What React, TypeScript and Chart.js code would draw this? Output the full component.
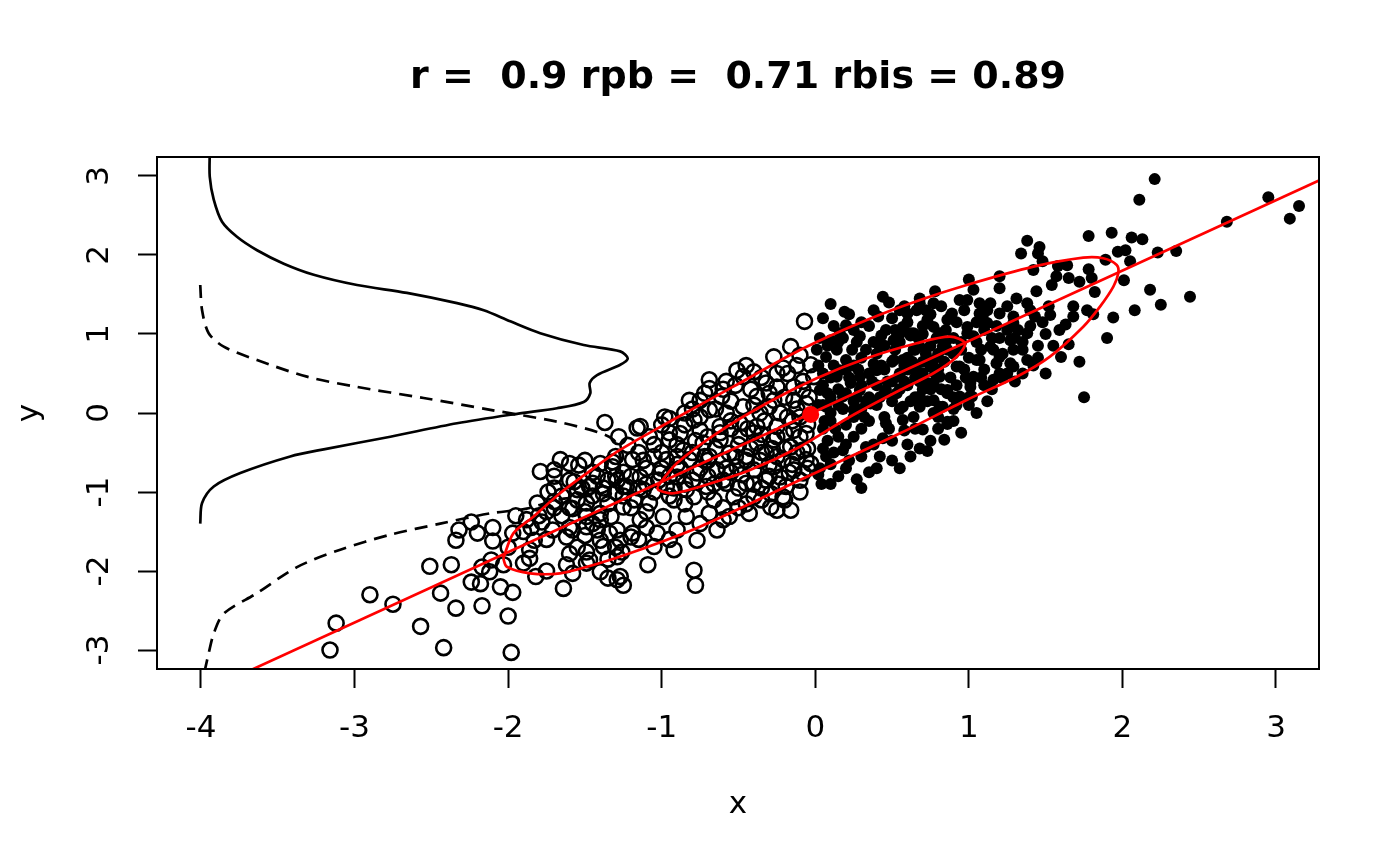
import { useEffect, useRef } from 'react';
import { Chart, registerables } from 'chart.js';

Chart.register(...registerables);

const FONT = '"DejaVu Sans", sans-serif';
const TITLE = 'r =  0.9 rpb =  0.71 rbis = 0.89';

const X_TICKS = [-4, -3, -2, -1, 0, 1, 2, 3];
const Y_TICKS = [-3, -2, -1, 0, 1, 2, 3];

// x < 0 group (open circles)
const OPEN_PTS: [number, number][] = [
  [-3.16, -3.0], [-3.12, -2.66], [-2.9, -2.3], [-2.75, -2.42], [-2.57, -2.7], [-2.42, -2.97],
  [-2.51, -1.94], [-2.37, -1.92], [-2.44, -2.28], [-2.34, -2.47], [-2.17, -2.44], [-1.98, -3.03],
  [-2.0, -2.57], [-1.97, -2.27], [-2.05, -2.2], [-2.24, -2.14], [-2.18, -2.16], [-2.17, -1.95],
  [-2.12, -2.01], [-2.11, -1.86], [-2.03, -1.92], [-2.34, -1.61], [-2.32, -1.48], [-2.24, -1.38],
  [-2.2, -1.52], [-2.1, -1.62], [-1.97, -1.52], [-1.86, -1.73], [-1.86, -1.84], [-1.82, -2.07],
  [-1.83, -1.61], [-1.88, -1.35], [-1.81, -1.14], [-1.74, -1.0], [-1.75, -1.25], [-1.7, -1.12],
  [-1.71, -1.48], [-1.64, -2.22], [-1.62, -1.92], [-1.58, -2.03], [-1.6, -1.78], [-1.62, -1.57],
  [-1.79, -0.74], [-1.7, -0.72], [-1.66, -0.59], [-1.6, -0.64], [-1.54, -0.66], [-1.4, -0.64],
  [-1.32, -0.62], [-1.58, -1.21], [-1.55, -0.97], [-1.49, -1.14], [-1.45, -1.4], [-1.49, -1.44],
  [-1.4, -1.61], [-1.47, -1.86], [-1.4, -2.01], [-1.35, -2.09], [-1.27, -2.07], [-1.25, -2.18],
  [-1.29, -1.82], [-1.34, -1.52], [-1.27, -1.61], [-1.45, -0.89], [-1.38, -1.02], [-1.29, -0.85],
  [-1.4, -1.27], [-1.37, -0.12], [-1.16, -0.19], [-1.22, -0.41], [-1.57, -0.87], [-1.47, -0.93],
  [-1.23, -0.93], [-1.25, -1.19], [-1.18, -1.1], [-1.2, -1.57], [-1.58, -1.48], [-1.49, -1.31],
  [-1.42, -1.48], [-1.33, -1.31], [-1.29, -1.48], [-1.49, -1.9], [-1.29, -2.11], [-1.49, -1.76],
  [-1.38, -1.69], [-1.26, -1.76], [-0.79, -1.99], [-0.78, -2.18], [-1.09, -1.92],
  [-0.07, 1.16], [-0.16, 0.84], [-0.1, 0.73], [-0.03, 0.61], [-0.01, 0.46], [-0.27, 0.71],
  [-0.21, 0.57], [-0.4, 0.52], [-0.51, 0.54], [-0.47, 0.46], [-0.69, 0.42], [-0.69, 0.31],
  [-0.52, 0.35], [-0.61, 0.21], [-0.75, 0.16], [-0.82, 0.16], [-0.95, -0.07], [-1.14, -0.17],
  [-0.32, 0.38], [-0.25, 0.33], [-0.14, 0.33], [-0.08, 0.29], [-0.38, 0.21], [-0.27, 0.16],
  [-0.14, 0.16], [-0.06, 0.12], [-0.47, 0.08], [-0.36, 0.0], [-0.23, 0.0], [-0.1, -0.05],
  [-0.58, 0.0], [-0.69, 0.04], [-0.79, -0.09], [-0.88, -0.26], [-0.75, -0.22], [-0.62, -0.17],
  [-0.49, -0.13], [-0.38, -0.17], [-0.25, -0.17], [-0.14, -0.22], [-0.06, -0.26], [-0.95, -0.34],
  [-0.86, -0.47], [-0.73, -0.38], [-0.62, -0.34], [-0.49, -0.3], [-0.38, -0.38], [-0.27, -0.34],
  [-0.16, -0.43], [-0.08, -0.47], [-1.05, -0.55], [-1.19, -0.59], [-1.32, -0.68], [-0.97, -0.59],
  [-0.82, -0.59], [-0.69, -0.55], [-0.56, -0.51], [-0.45, -0.55], [-0.32, -0.51], [-0.21, -0.59],
  [-0.06, -0.59], [-1.14, -0.81], [-1.01, -0.76], [-0.9, -0.81], [-0.77, -0.76], [-0.64, -0.72],
  [-0.51, -0.68], [-0.4, -0.72], [-0.27, -0.68], [-0.14, -0.72], [-1.25, -0.93], [-1.12, -0.97],
  [-0.97, -0.93], [-0.84, -0.97], [-0.71, -0.93], [-0.58, -0.89], [-0.45, -0.89], [-0.32, -0.85],
  [-0.19, -0.93], [-1.08, -1.14], [-0.92, -1.1], [-0.79, -1.06], [-0.66, -1.1], [-0.53, -1.06],
  [-0.4, -1.06], [-0.29, -1.02], [-0.16, -1.23], [-0.29, -1.19], [-0.43, -1.27], [-0.56, -1.31],
  [-0.69, -1.27], [-0.84, -1.31], [-0.99, -1.31], [-1.14, -1.35], [-1.19, -1.52], [-1.03, -1.52],
  [-0.9, -1.48], [-0.77, -1.61], [-0.64, -1.48], [-0.92, -1.73], [-1.05, -1.69], [-0.25, -1.23],
  [-0.21, -1.06], [-0.08, -0.76], [-0.03, -0.64], [-0.23, -0.81], [-0.35, -0.27], [-0.55, -0.2],
  [-0.7, -0.6], [-0.9, -0.4], [-0.6, -0.85], [-0.42, -0.45], [-0.18, -0.05], [-0.3, 0.08],
  [-1.3, -1.0], [-1.2, -0.8], [-1.1, -0.9], [-1.0, -0.7], [-1.05, -1.0], [-0.95, -0.8],
  [-0.9, -0.65], [-0.85, -0.9], [-0.8, -0.5], [-0.75, -0.7], [-0.7, -0.8], [-0.65, -0.45],
  [-0.6, -0.6], [-0.55, -0.75], [-0.5, -0.4], [-0.45, -0.6], [-0.4, -0.25], [-0.35, -0.5],
  [-0.3, -0.65], [-0.25, -0.3], [-0.2, -0.45], [-0.15, -0.1], [-0.1, -0.3], [-0.05, -0.45],
  [-0.12, 0.05], [-0.2, 0.2], [-0.3, 0.25], [-0.42, 0.3], [-0.55, 0.15], [-0.65, 0.05],
  [-0.75, -0.05], [-0.85, -0.15], [-0.95, -0.25], [-1.05, -0.4], [-1.15, -0.5], [-1.25, -0.75],
  [-1.35, -0.85], [-1.45, -1.05], [-1.55, -1.1], [-1.65, -1.3], [-1.5, -1.25], [-1.35, -1.15],
  [-1.2, -1.2], [-1.1, -1.25], [-0.95, -1.05], [-0.85, -1.15], [-0.7, -1.0], [-0.6, -1.2],
  [-0.5, -0.95], [-0.35, -0.95], [-0.25, -0.55], [-0.15, -0.65], [-0.05, -0.15], [-0.08, 0.4],
  [-0.18, 0.5], [-0.35, 0.45], [-0.6, 0.3], [-0.8, 0.05], [-1.0, -0.15], [-1.3, -0.55],
  [-1.45, -0.75], [-1.6, -0.85], [-1.7, -0.95], [-1.8, -1.3], [-1.9, -1.5], [-1.75, -1.6],
  [-1.6, -1.45], [-1.5, -1.55], [-1.7, -1.2], [-1.4, -1.35], [-1.15, -1.6], [-1.3, -1.7],
  [-0.45, -1.15], [-0.3, -0.8], [-0.1, -0.85], [-0.55, -0.1], [-0.7, -0.3], [-0.9, -0.55],
  [-1.1, -0.7], [-0.4, 0.1],
  [-1.95, -1.3], [-1.85, -1.45], [-1.78, -1.38], [-1.65, -1.05], [-1.6, -1.2], [-1.52, -0.95],
  [-1.42, -0.8], [-1.38, -0.95], [-1.3, -0.8], [-1.25, -1.05], [-1.15, -0.95], [-1.12, -0.6],
  [-1.02, -0.85], [-1.0, -0.5], [-0.92, -0.95], [-0.88, -0.7], [-0.8, -0.85], [-0.78, -0.35],
  [-0.72, -0.55], [-0.66, -0.9], [-0.62, -0.25], [-0.58, -0.7], [-0.52, -0.55], [-0.48, -0.78],
  [-0.44, -0.2], [-0.4, -0.9], [-0.36, -0.6], [-0.33, -0.1], [-0.28, -0.45], [-0.24, -0.9],
  [-0.2, -0.25], [-0.17, -0.75], [-0.12, -0.5], [-0.1, -1.0], [-0.05, -0.7], [-0.04, 0.2],
  [-0.12, 0.6], [-0.25, 0.5], [-0.45, 0.6], [-0.58, 0.4], [-0.72, 0.25], [-0.85, 0.0],
  [-0.98, -0.05], [-1.08, -0.3], [-1.28, -0.3], [-1.5, -0.6], [-1.7, -0.8], [-1.55, -1.7],
  [-1.35, -1.85], [-1.1, -1.45], [-0.95, -1.6], [-0.75, -1.4], [-0.6, -1.35], [-0.5, -1.2],
  [-0.35, -1.1], [-0.2, -1.1], [-2.0, -1.7], [-2.1, -1.45], [-1.9, -1.9], [-1.75, -2.0],
];

// x > 0 group (filled dots)
const FILLED_PTS: [number, number][] = [
  [2.21, 2.96], [2.11, 2.7], [2.95, 2.73], [3.15, 2.62], [3.09, 2.46], [2.68, 2.42], [1.78, 2.24],
  [1.93, 2.28], [2.06, 2.22], [2.13, 2.2], [1.38, 2.18], [1.46, 2.1], [1.34, 2.02], [1.45, 2.02],
  [1.97, 2.04], [2.02, 2.06], [2.23, 2.03], [2.35, 2.05], [2.05, 1.92], [1.89, 1.94], [1.78, 1.82],
  [1.64, 1.87], [1.58, 1.86], [1.48, 1.92], [1.42, 1.81], [1.2, 1.73], [1.8, 1.71], [1.72, 1.66],
  [2.01, 1.68], [2.18, 1.56], [2.44, 1.47], [1.82, 1.53], [2.08, 1.3], [2.25, 1.37], [1.94, 1.21],
  [1.81, 1.25], [1.9, 0.95], [1.65, 0.87], [1.6, 0.71], [1.72, 0.65], [1.75, 0.2], [1.59, 1.05],
  [1.63, 1.12], [1.53, 1.24], [1.0, 1.69], [0.78, 1.54], [0.68, 1.45], [0.99, 1.43], [1.07, 1.39],
  [1.2, 1.58], [1.31, 1.45], [1.38, 1.39], [1.44, 1.54], [1.54, 1.62], [1.57, 1.73], [1.65, 1.71],
  [1.09, 1.22], [1.2, 1.26], [1.29, 1.14], [1.43, 1.22], [1.52, 1.35], [1.68, 1.35], [1.77, 1.3],
  [1.68, 1.22], [1.38, 1.01], [1.27, 0.92], [1.14, 0.84], [1.07, 0.67], [1.18, 0.63], [1.27, 0.63],
  [1.38, 0.67], [1.01, 0.38], [1.16, 0.42], [1.22, 0.44], [0.86, 0.29], [1.02, 0.21], [0.77, 0.16],
  [0.68, 0.08], [0.83, 0.08], [0.62, 1.01], [0.77, 1.09], [0.88, 1.22], [0.68, 0.84], [0.83, 0.84],
  [0.99, 1.01], [0.6, 1.26], [0.68, 1.39], [0.57, 0.67], [0.66, 0.46], [0.75, 0.59], [0.92, 0.59],
  [0.77, 0.38], [0.44, 1.47], [0.1, 1.38], [0.19, 1.28], [0.41, 1.22], [0.2, 1.11], [0.66, 1.3],
  [0.77, 1.39], [0.94, 1.43], [1.03, 1.56], [1.14, 1.39], [0.55, 1.3], [0.1, 0.92], [0.29, 0.97],
  [0.16, 1.01], [0.46, 1.05], [0.57, 1.09], [0.73, 1.18], [0.86, 1.18], [0.89, 1.26], [0.99, 1.09],
  [1.12, 1.14], [1.25, 1.05], [0.07, 0.71], [0.2, 0.67], [0.14, 0.8], [0.33, 0.8], [0.42, 0.84],
  [0.51, 0.92], [0.64, 1.01], [0.81, 1.01], [1.03, 0.97], [1.16, 0.8], [1.05, 0.67], [1.29, 0.59],
  [1.01, 0.33], [0.94, 0.21], [0.86, 0.25], [0.81, 0.08], [0.68, 0.21], [0.57, 0.08], [0.64, -0.05],
  [0.86, -0.11], [0.57, -0.09], [0.46, -0.13], [0.46, 0.29], [0.29, 0.29], [0.23, 0.38], [0.14, 0.46],
  [0.18, 0.21], [0.07, 0.08], [0.25, 0.04], [0.36, 0.12], [0.55, 0.46], [0.66, 0.54], [0.77, 0.67],
  [0.86, 0.8], [0.64, 0.8], [0.51, 0.67], [0.4, 0.54], [0.29, 0.46], [0.73, 0.38], [0.94, 0.59],
  [1.03, 0.46], [0.81, 0.46], [1.2, 0.71], [1.29, 0.8], [1.29, 1.22], [1.07, 1.26], [0.01, 0.8],
  [0.03, 0.29], [0.16, 0.54], [0.27, -0.84], [0.4, -0.7], [0.5, -0.6], [0.73, -0.48], [0.84, -0.34],
  [0.86, -0.14], [0.58, -0.22], [0.7, -0.21], [0.44, -0.32], [0.33, -0.43], [0.18, -0.47],
  [0.03, -0.7], [0.02, -0.78], [0.07, -0.55], [0.25, -0.3], [0.77, 0.0],
  [0.05, 0.1], [0.1, 0.0], [0.1, 0.2], [0.15, 0.1], [0.2, 0.25], [0.25, 0.15], [0.3, 0.35],
  [0.35, 0.2], [0.35, 0.5], [0.4, 0.35], [0.45, 0.55], [0.5, 0.4], [0.5, 0.65], [0.55, 0.5],
  [0.6, 0.7], [0.6, 0.55], [0.65, 0.8], [0.7, 0.65], [0.75, 0.85], [0.8, 0.75], [0.85, 0.9],
  [0.05, -0.2], [0.1, -0.1], [0.15, -0.3], [0.2, -0.15], [0.25, -0.05], [0.3, 0.05], [0.3, -0.2],
  [0.4, 0.1], [0.45, 0.25], [0.5, 0.15], [0.55, 0.3], [0.6, 0.35], [0.65, 0.45], [0.7, 0.5],
  [0.75, 0.6], [0.8, 0.55], [0.9, 0.75], [0.05, 0.35], [0.1, 0.45], [0.2, 0.55], [0.25, 0.6],
  [0.3, 0.7], [0.4, 0.75], [0.45, 0.85], [0.55, 0.9], [0.05, -0.45], [0.12, -0.5], [0.2, -0.4],
  [0.35, -0.1], [0.45, -0.05], [0.55, 0.05], [0.65, 0.2], [0.75, 0.3], [0.02, 0.6], [0.08, -0.35],
  [0.15, 0.3], [0.38, 0.62], [0.62, 0.98], [0.7, 0.3],
  [0.02, 0.1], [0.06, -0.1], [0.08, 0.25], [0.12, 0.6], [0.13, -0.2], [0.18, 0.05], [0.22, 0.45],
  [0.22, -0.6], [0.27, 0.2], [0.28, 0.55], [0.32, -0.05], [0.33, 0.15], [0.37, 0.4], [0.38, 0.9],
  [0.42, 0.2], [0.43, 0.6], [0.47, 0.4], [0.48, -0.2], [0.52, 0.8], [0.53, 0.25], [0.58, 0.6],
  [0.58, 0.4], [0.62, 0.15], [0.63, 0.65], [0.67, 0.95], [0.68, 0.4], [0.72, 0.75], [0.73, 0.15],
  [0.78, 0.5], [0.79, 0.95], [0.82, 0.3], [0.84, 0.65], [0.88, 0.45], [0.9, 0.95], [0.92, 0.35],
  [0.95, 0.8], [0.97, 0.55], [1.0, 0.7], [1.05, 0.9], [1.1, 0.55], [1.1, 1.05], [1.15, 0.3],
  [1.2, 0.95], [1.25, 0.5], [1.3, 0.95], [1.35, 0.8], [1.4, 1.1], [1.45, 0.85], [1.5, 1.0],
  [1.35, 0.5], [0.04, -0.9], [0.1, -0.65], [0.2, -0.7], [0.3, -0.55], [0.38, -0.4], [0.5, -0.35],
  [0.6, -0.4], [0.65, -0.2], [0.8, -0.2], [0.9, 0.05], [1.0, 0.1], [0.15, 0.9], [0.25, 1.05],
  [0.35, 1.1], [0.5, 1.2], [0.6, 1.15], [0.72, 1.3], [0.05, 0.5], [0.03, 0.95], [0.24, 0.8],
  [0.05, 1.2], [0.12, 1.1], [0.22, 1.25], [0.3, 1.15], [0.38, 1.3], [0.48, 1.4], [0.52, 1.05],
  [0.58, 1.35], [0.7, 1.1], [0.75, 1.25], [0.82, 1.35], [0.92, 1.15], [0.97, 1.3], [1.05, 1.15],
  [1.12, 1.3], [1.18, 1.1], [1.25, 1.35], [1.32, 1.05], [1.4, 1.3], [1.48, 1.15], [0.08, 0.85],
  [0.18, 0.95], [0.27, 0.9], [0.43, 0.98], [0.55, 1.0], [0.7, 1.0], [0.85, 1.05], [0.95, 0.9],
  [1.08, 0.8], [1.15, 0.95], [1.22, 0.75], [1.35, 0.9], [1.45, 0.7], [1.55, 0.85], [1.0, 0.2],
  [1.1, 0.35], [1.2, 0.5], [1.3, 0.4], [1.42, 0.6], [1.5, 0.5], [0.9, -0.1], [0.95, -0.25],
  [1.05, 0.0], [1.12, 0.15], [0.75, -0.35], [0.62, -0.55], [0.55, -0.7], [0.35, -0.75],
  [0.42, -0.55], [0.15, -0.8], [0.1, -0.9], [0.3, -0.95], [0.68, -0.45], [0.8, -0.05], [0.9, 0.2],
  [0.98, 0.45], [1.08, 0.45], [0.92, 0.1],
];

// density of y, x > 0 group (solid), drawn sideways from x = -4
const SOLID_DENSITY: [number, number][] = [
  [-3.943, 3.3], [-3.943, 2.99], [-3.917, 2.7], [-3.863, 2.42], [-3.766, 2.23], [-3.635, 2.06],
  [-3.461, 1.89], [-3.266, 1.75], [-2.984, 1.62], [-2.659, 1.52], [-2.333, 1.39], [-2.159, 1.3],
  [-1.986, 1.16], [-1.791, 1.01], [-1.508, 0.86], [-1.27, 0.78], [-1.221, 0.69], [-1.27, 0.61],
  [-1.421, 0.48], [-1.469, 0.38], [-1.465, 0.25], [-1.508, 0.14], [-1.682, 0.06], [-1.942, -0.01],
  [-2.333, -0.13], [-2.767, -0.3], [-3.201, -0.46], [-3.419, -0.55], [-3.744, -0.76], [-3.917, -0.93],
  [-3.993, -1.14], [-4.005, -1.4],
];

// density of y, x < 0 group (dashed)
const DASHED_DENSITY: [number, number][] = [
  [-4.005, 1.62], [-3.993, 1.3], [-3.95, 1.01], [-3.852, 0.84], [-3.635, 0.67], [-3.31, 0.46],
  [-2.984, 0.33], [-2.55, 0.19], [-2.116, 0.04], [-1.682, -0.11], [-1.421, -0.24], [-1.313, -0.34],
  [-1.272, -0.53], [-1.259, -0.75], [-1.369, -1.0], [-1.684, -1.1], [-1.879, -1.21], [-2.116, -1.27],
  [-2.442, -1.4], [-2.767, -1.54], [-3.093, -1.73], [-3.375, -1.95], [-3.635, -2.28], [-3.852, -2.54],
  [-3.917, -2.79], [-3.95, -3.04], [-3.972, -3.23], [-3.98, -3.3],
];

const OUTER_CONTOUR: [number, number][] = [
  [-2.032, -1.839], [-1.966, -1.523], [-1.836, -1.313], [-1.662, -1.016], [-1.488, -0.763],
  [-1.272, -0.468], [-0.967, -0.13], [-0.534, 0.333], [-0.1, 0.797], [0.335, 1.177], [0.682, 1.43],
  [0.986, 1.62], [1.42, 1.852], [1.745, 1.966], [1.875, 1.958], [1.963, 1.873], [1.973, 1.768],
  [1.941, 1.599], [1.854, 1.346], [1.745, 1.092], [1.528, 0.713], [1.312, 0.459], [0.986, 0.165],
  [0.552, -0.257], [-0.1, -0.848], [-0.751, -1.439], [-1.207, -1.776], [-1.445, -1.924],
  [-1.662, -2.029], [-1.858, -2.029], [-2.009, -1.946], [-2.032, -1.839],
];

const INNER_ELLIPSE: [number, number][] = [
  [-1.029, -0.933], [-0.902, -0.637], [-0.642, -0.257], [-0.316, 0.123], [0.009, 0.439],
  [0.335, 0.692], [0.66, 0.882], [0.877, 0.966], [0.975, 0.882], [0.921, 0.713], [0.769, 0.503],
  [0.552, 0.291], [0.226, -0.047], [-0.1, -0.427], [-0.425, -0.722], [-0.751, -0.933],
  [-0.925, -1.016], [-1.022, -0.975], [-1.029, -0.933],
];

const FIT_LINE: [number, number][] = [[-4.3, -3.81], [3.3, 2.96]];
const CENTER: [number, number][] = [[-0.03, -0.02]];

const toXY = (arr: [number, number][]) => arr.map(([x, y]) => ({ x, y }));

const decor = {
  id: 'decor',
  afterDraw(chart: Chart) {
    const { ctx, chartArea: a, scales } = chart;
    ctx.save();
    ctx.strokeStyle = '#000';
    ctx.lineWidth = 2;
    ctx.strokeRect(a.left, a.top, a.right - a.left, a.bottom - a.top);
    ctx.fillStyle = '#000';
    ctx.textAlign = 'center';
    ctx.textBaseline = 'middle';
    ctx.font = `bold 38px ${FONT}`;
    ctx.fillText(TITLE, (a.left + a.right) / 2, 78);
    ctx.font = `31px ${FONT}`;
    scales.x.ticks.forEach((t) => {
      ctx.fillText(String(t.value), scales.x.getPixelForValue(t.value), 729);
    });
    scales.y.ticks.forEach((t) => {
      ctx.save();
      ctx.translate(100, scales.y.getPixelForValue(t.value));
      ctx.rotate(-Math.PI / 2);
      ctx.fillText(String(t.value), 0, 0);
      ctx.restore();
    });
    ctx.fillText('x', (a.left + a.right) / 2, 805);
    ctx.save();
    ctx.translate(30, (a.top + a.bottom) / 2);
    ctx.rotate(-Math.PI / 2);
    ctx.fillText('y', 0, 0);
    ctx.restore();
    ctx.restore();
  },
};

export default function App() {
  const ref = useRef<HTMLCanvasElement>(null);
  const chartRef = useRef<Chart | null>(null);

  useEffect(() => {
    if (!ref.current) return;
    const ctx = ref.current.getContext('2d');
    if (!ctx) return;
    const lineDs = (data: [number, number][], color: string, order: number, dash: number[] = []) => ({
      data: toXY(data),
      showLine: true,
      borderColor: color,
      borderWidth: 2.7,
      borderDash: dash,
      pointRadius: 0,
      tension: 0.3,
      fill: false,
      order,
    });
    chartRef.current = new Chart(ctx, {
      type: 'scatter',
      data: {
        datasets: [
          {
            data: toXY(OPEN_PTS),
            pointRadius: 7.5,
            pointBorderWidth: 2.6,
            pointBorderColor: '#000',
            pointBackgroundColor: 'rgba(0,0,0,0)',
            order: 4,
          },
          {
            data: toXY(FILLED_PTS),
            pointRadius: 6,
            pointBorderWidth: 0,
            pointBackgroundColor: '#000',
            order: 3,
          },
          lineDs(SOLID_DENSITY, '#000', 2),
          lineDs(DASHED_DENSITY, '#000', 2, [13, 8]),
          lineDs(OUTER_CONTOUR, '#ff0000', 1),
          lineDs(INNER_ELLIPSE, '#ff0000', 1),
          { ...lineDs(FIT_LINE, '#ff0000', 1), tension: 0 },
          {
            data: toXY(CENTER),
            pointRadius: 8.5,
            pointBorderWidth: 0,
            pointBackgroundColor: '#ff0000',
            order: 0,
          },
        ],
      } as any,
      options: {
        animation: false,
        responsive: true,
        maintainAspectRatio: false,
        events: [],
        layout: { padding: { top: 157, right: 81, left: 0, bottom: 0 } },
        plugins: { legend: { display: false }, tooltip: { enabled: false }, title: { display: false } },
        scales: {
          x: {
            type: 'linear',
            min: -4.2865,
            max: 3.28,
            afterBuildTicks: (s: any) => {
              s.ticks = X_TICKS.map((value) => ({ value }));
            },
            afterFit: (s: any) => {
              s.height = 197;
            },
            ticks: { display: false },
            grid: {
              drawOnChartArea: false,
              drawTicks: true,
              tickLength: 19,
              tickWidth: 2,
              tickColor: '#000',
            },
            border: { display: true, color: '#000', width: 2 },
          },
          y: {
            type: 'linear',
            min: -3.24,
            max: 3.24,
            afterBuildTicks: (s: any) => {
              s.ticks = Y_TICKS.map((value) => ({ value }));
            },
            afterFit: (s: any) => {
              s.width = 157;
            },
            ticks: { display: false },
            grid: {
              drawOnChartArea: false,
              drawTicks: true,
              tickLength: 19,
              tickWidth: 2,
              tickColor: '#000',
            },
            border: { display: true, color: '#000', width: 2 },
          },
        },
      },
      plugins: [decor],
    });
    return () => {
      chartRef.current?.destroy();
      chartRef.current = null;
    };
  }, []);

  return (
    <div style={{ position: 'fixed', left: 0, top: 0, width: 1400, height: 866, background: '#fff' }}>
      <canvas ref={ref} />
    </div>
  );
}
